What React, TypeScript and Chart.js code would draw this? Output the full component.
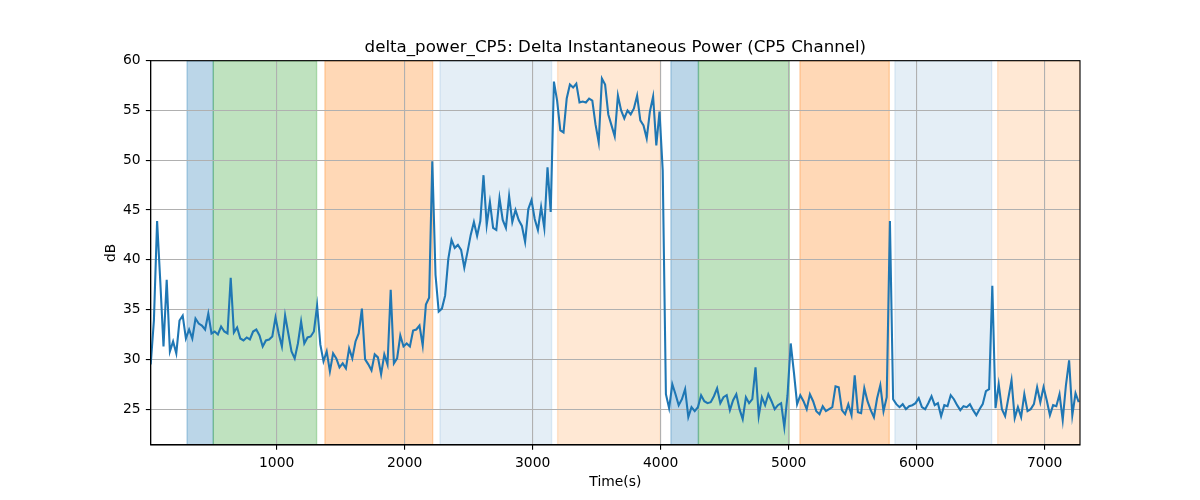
import { useEffect, useRef } from "react";
import { Chart, registerables } from "chart.js";

Chart.register(...registerables);

const TITLE = "delta_power_CP5: Delta Instantaneous Power (CP5 Channel)";
const X_LABEL = "Time(s)";
const Y_LABEL = "dB";

// sample grid of the recording (seconds)
const T_START = 16;
const T_STEP = 25;
const X_MIN = 16;
const X_MAX = 7276;
const Y_MIN = 21.4;
const Y_MAX = 60;

const X_TICKS = [1000, 2000, 3000, 4000, 5000, 6000, 7000];
const Y_TICKS = [25, 30, 35, 40, 45, 50, 55, 60];

// delta power, dB, one value per sample
const power = [
  29.5, 33.9, 43.9, 37.8, 31.3, 38.0, 30.8, 31.8, 30.6, 33.9,
  34.4, 32.1, 33.0, 32.1, 34.1, 33.6, 33.4, 33.0, 34.6, 32.6,
  32.8, 32.5, 33.3, 32.8, 32.6, 38.2, 32.7, 33.2, 32.1, 31.9,
  32.2, 32.0, 32.8, 33.0, 32.4, 31.3, 31.9, 32.0, 32.3, 34.2,
  32.6, 31.3, 34.4, 32.6, 30.8, 30.1, 31.6, 33.8, 31.6, 32.2,
  32.3, 32.8, 35.4, 31.5, 29.8, 30.8, 28.8, 30.6, 30.1, 29.2,
  29.6, 29.1, 31.1, 30.1, 31.8, 32.6, 35.1, 30.0, 29.5, 28.9,
  30.5, 30.2, 28.5, 30.5, 29.5, 37.0, 29.6, 30.1, 32.4, 31.3,
  31.6, 31.3, 32.9, 33.0, 33.4, 31.4, 35.5, 36.2, 49.9, 38.5,
  34.8, 35.1, 36.4, 40.1, 42.0, 41.2, 41.5, 41.0, 39.2, 40.8,
  42.5, 43.8, 42.4, 43.9, 48.5, 43.5, 45.8, 43.2, 43.0, 46.2,
  44.0, 43.2, 46.4, 43.8, 45.0, 44.0, 43.4, 41.8, 45.1, 46.0,
  44.1, 43.0, 45.3, 43.2, 49.3, 44.8, 57.9, 56.0, 53.0, 52.8,
  56.2, 57.6, 57.3, 57.7, 55.8, 55.9, 55.8, 56.2, 56.0, 53.6,
  51.8, 58.2, 57.6, 54.6, 53.5, 52.4, 56.5, 55.0, 54.2, 55.0,
  54.6, 55.2, 56.5, 54.0, 53.5, 52.2, 54.9, 56.4, 51.5, 54.9,
  49.0, 26.5, 25.1, 27.5, 26.5, 25.4, 26.0, 27.0, 24.2, 25.2,
  24.8, 25.2, 26.4, 25.8, 25.6, 25.7, 26.3, 27.1, 25.6, 26.2,
  26.4, 24.9, 25.9, 26.5, 25.0, 24.0, 26.2, 25.6, 26.0, 29.2,
  24.3, 26.2, 25.4, 26.5, 25.8, 25.0, 25.4, 25.6, 23.2, 26.4,
  31.6, 28.7, 25.5, 26.4, 25.8, 25.0, 26.5, 25.8, 24.8, 24.5,
  25.3, 24.8, 25.0, 25.2, 27.3, 27.2, 24.9, 24.5, 25.5, 24.4,
  28.4, 24.7, 24.6, 27.1, 25.8, 24.9, 24.2, 26.1, 27.4, 24.8,
  26.2, 43.9, 26.0, 25.5, 25.2, 25.5, 25.0, 25.3, 25.4, 25.6,
  26.1, 25.2, 25.0, 25.6, 26.3, 25.4, 25.6, 24.3, 25.4, 25.3,
  26.4, 26.0, 25.4, 24.9, 25.3, 25.2, 25.5, 24.9, 24.4, 25.0,
  25.5, 26.8, 27.0, 37.4, 25.1, 27.5, 25.0, 24.3, 26.1, 27.9,
  24.1, 25.2, 24.2, 26.5, 24.8, 25.0, 25.5, 27.2, 25.7, 27.2,
  25.9, 24.4, 25.4, 25.3, 26.5, 23.9, 27.4, 29.9, 24.4, 26.6,
  25.7,
];

// stimulus phases (seconds)
const bandStart = [300, 505, 1377, 2276, 3195, 4080, 4295, 5088, 5830, 6633];
const bandEnd = [505, 1312, 2219, 3148, 3998, 4295, 5005, 5786, 6586, 7276];
const bandKind = ["a", "b", "c", "d", "e", "a", "b", "c", "d", "e"];

const BAND_COLORS: Record<string, string> = {
  a: "rgba(31,119,180,0.3)",
  b: "rgba(44,160,44,0.3)",
  c: "rgba(255,127,14,0.3)",
  d: "rgba(31,119,180,0.12)",
  e: "rgba(255,127,14,0.18)",
};

const FONT = "'DejaVu Sans', sans-serif";
const PT = 100 / 72; // figure was saved at 100 dpi

const bandsPlugin = {
  id: "bands",
  beforeDraw(chart: Chart) {
    const { ctx, chartArea } = chart;
    const x = chart.scales.x;
    ctx.save();
    ctx.beginPath();
    ctx.rect(chartArea.left, chartArea.top, chartArea.right - chartArea.left, chartArea.bottom - chartArea.top);
    ctx.clip();
    for (let i = 0; i < bandStart.length; i++) {
      const x1 = x.getPixelForValue(bandStart[i]);
      const x2 = x.getPixelForValue(bandEnd[i]);
      const color = BAND_COLORS[bandKind[i]];
      ctx.fillStyle = color;
      ctx.fillRect(x1, chartArea.top, x2 - x1, chartArea.bottom - chartArea.top);
      ctx.strokeStyle = color;
      ctx.lineWidth = PT;
      ctx.strokeRect(x1, chartArea.top, x2 - x1, chartArea.bottom - chartArea.top);
    }
    ctx.restore();
  },
};

const framePlugin = {
  id: "frame",
  afterDraw(chart: Chart) {
    const { ctx, chartArea } = chart;
    const { left, right, top, bottom } = chartArea;
    ctx.save();
    ctx.strokeStyle = "#000";
    ctx.lineWidth = 0.8 * PT;
    ctx.strokeRect(left, top, right - left, bottom - top);

    ctx.fillStyle = "#000";
    ctx.textAlign = "center";
    ctx.textBaseline = "alphabetic";
    ctx.font = `${12 * PT}px ${FONT}`;
    ctx.fillText(TITLE, (left + right) / 2, 52);

    ctx.font = `${10 * PT}px ${FONT}`;
    ctx.fillText(X_LABEL, (left + right) / 2, 485.5);

    ctx.translate(114.5, (top + bottom) / 2);
    ctx.rotate(-Math.PI / 2);
    ctx.fillText(Y_LABEL, 0, 0);
    ctx.restore();
  },
};

function PowerChart() {
  const canvasRef = useRef<HTMLCanvasElement>(null);
  const chartRef = useRef<Chart | null>(null);

  useEffect(() => {
    if (!canvasRef.current) return;
    if (chartRef.current) chartRef.current.destroy();

    const points = power.map((v, i) => ({ x: T_START + i * T_STEP, y: v }));

    const grid = {
      color: "#b0b0b0",
      lineWidth: 0.8 * PT,
      drawTicks: true,
      tickLength: 3.5 * PT,
      tickColor: "#000",
      tickWidth: 0.8 * PT,
    };

    chartRef.current = new Chart(canvasRef.current, {
      type: "line",
      data: {
        datasets: [
          {
            data: points,
            borderColor: "#1f77b4",
            borderWidth: 1.5 * PT,
            pointRadius: 0,
            tension: 0,
            fill: false,
          },
        ],
      },
      options: {
        animation: false,
        responsive: false,
        maintainAspectRatio: false,
        devicePixelRatio: 1,
        layout: { padding: { top: 60.7, right: 120, bottom: 0, left: 0 } },
        plugins: {
          legend: { display: false },
          title: { display: false },
          tooltip: { enabled: false },
        },
        scales: {
          x: {
            type: "linear",
            min: X_MIN,
            max: X_MAX,
            afterBuildTicks: (scale: any) => {
              scale.ticks = X_TICKS.map((v) => ({ value: v }));
            },
            afterFit: (scale: any) => {
              scale.height = 55;
            },
            grid,
            border: { display: true, color: "#000", width: 0.8 * PT },
            ticks: {
              color: "#000",
              font: { family: FONT, size: 10 * PT },
              padding: 5,
              maxRotation: 0,
              autoSkip: false,
              callback: (v: any) => String(v),
            },
          },
          y: {
            type: "linear",
            min: Y_MIN,
            max: Y_MAX,
            afterBuildTicks: (scale: any) => {
              scale.ticks = Y_TICKS.map((v) => ({ value: v }));
            },
            afterFit: (scale: any) => {
              scale.width = 150.7;
            },
            grid,
            border: { display: true, color: "#000", width: 0.8 * PT },
            ticks: {
              color: "#000",
              font: { family: FONT, size: 10 * PT },
              padding: 5.3,
              autoSkip: false,
              callback: (v: any) => String(v),
            },
          },
        },
      },
      plugins: [bandsPlugin, framePlugin],
    });

    return () => {
      if (chartRef.current) {
        chartRef.current.destroy();
        chartRef.current = null;
      }
    };
  }, []);

  return <canvas ref={canvasRef} width={1200} height={500} style={{ display: "block" }} />;
}

export default function App() {
  return (
    <div style={{ position: "fixed", left: 0, top: 0, width: 1200, height: 500, background: "#fff" }}>
      <PowerChart />
    </div>
  );
}
